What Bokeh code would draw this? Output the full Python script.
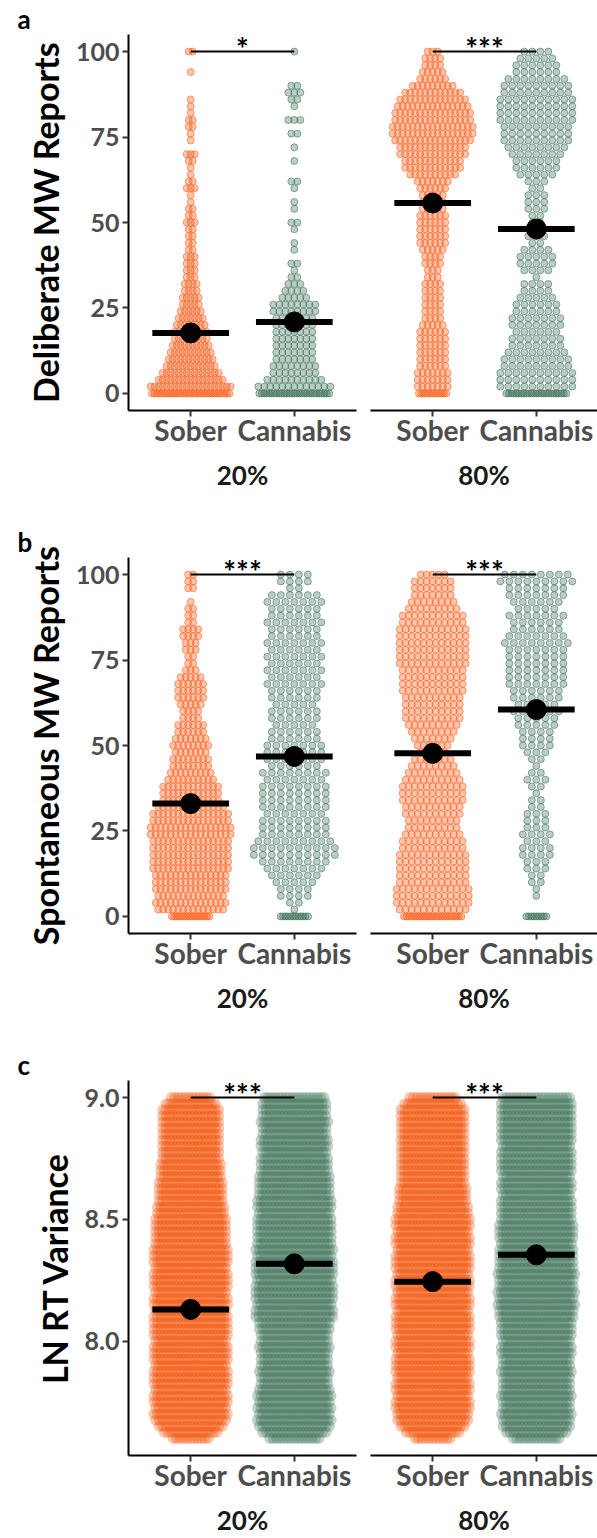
from bokeh.plotting import figure
from bokeh.layouts import column, row
from bokeh.models import Range1d, FixedTicker, Title, NumeralTickFormatter
from bokeh.core.properties import value
from bokeh.embed import file_html
from bokeh.resources import INLINE

FONT = "Lato"
ORANGE = "#FF5A14"
GREEN = "#3D7055"
ORANGE_SOLID = "#F35005"
GREEN_SOLID = "#3F7257"

CONDITIONS = ["Sober", "Cannabis"]
LOADS = ["20%", "80%"]

# Report levels (0-100, step 2) for the two MW rating panels
MW_LEVELS = list(range(0, 101, 2))
# LN RT variance levels (7.600 - 9.000, step 0.025)
RT_LEVELS = [round(7.6 + 0.025 * i, 3) for i in range(57)]

# ---- a: deliberate MW reports, trials per level (levels 0, 2, ..., 100)
deliberate_sober_20 = [32, 21, 17, 15, 13, 12, 11, 10, 9, 9,
                       8, 7, 6, 5, 5, 4, 4, 3, 3, 3,
                       3, 2, 2, 2, 2, 3, 2, 2, 1, 1,
                       3, 2, 1, 1, 2, 3, 0, 1, 1, 2,
                       2, 1, 1, 1, 0, 0, 0, 1, 0, 0, 2]
deliberate_cannabis_20 = [29, 13, 10, 8, 8, 7, 7, 7, 7, 7,
                          7, 7, 8, 8, 5, 4, 3, 2, 1, 2,
                          0, 1, 1, 0, 1, 2, 0, 1, 1, 0,
                          1, 2, 0, 0, 1, 0, 1, 0, 2, 0,
                          3, 0, 1, 2, 3, 2, 0, 0, 0, 0, 1]
deliberate_sober_80 = [12, 7, 7, 7, 6, 6, 6, 6, 6, 6,
                       5, 4, 4, 4, 4, 4, 4, 3, 3, 4,
                       4, 5, 6, 6, 6, 6, 6, 5, 5, 5,
                       6, 7, 10, 12, 12, 14, 14, 16, 17, 17,
                       16, 16, 15, 14, 12, 9, 6, 5, 4, 4, 3]
deliberate_cannabis_80 = [25, 10, 10, 10, 9, 9, 8, 7, 7, 6,
                          7, 7, 6, 6, 5, 4, 4, 1, 4, 5,
                          5, 4, 2, 3, 2, 2, 2, 3, 3, 3,
                          2, 3, 5, 6, 6, 7, 8, 9, 9, 9,
                          10, 10, 10, 10, 9, 9, 8, 6, 6, 5, 4]
deliberate_mean_20 = [17.7, 20.9]
deliberate_mean_80 = [55.7, 48.1]
deliberate_sig = ["*", "***"]

# ---- b: spontaneous MW reports
spontaneous_sober_20 = [16, 14, 15, 14, 15, 15, 15, 16, 16, 16,
                        16, 16, 17, 17, 16, 16, 14, 12, 12, 12,
                        10, 9, 8, 8, 7, 8, 7, 6, 6, 4,
                        4, 5, 6, 6, 6, 5, 3, 2, 2, 3,
                        3, 4, 4, 2, 2, 2, 1, 0, 2, 2, 2]
spontaneous_cannabis_20 = [12, 1, 2, 4, 4, 5, 6, 7, 8, 10,
                           10, 9, 8, 8, 8, 7, 8, 8, 8, 8,
                           7, 8, 6, 7, 7, 7, 6, 6, 5, 6,
                           6, 5, 6, 6, 7, 6, 7, 6, 7, 6,
                           7, 6, 6, 7, 6, 6, 7, 6, 2, 4, 4]
spontaneous_sober_80 = [24, 12, 13, 13, 13, 12, 12, 12, 12, 12,
                        11, 11, 10, 9, 9, 10, 10, 11, 11, 11,
                        10, 9, 8, 7, 5, 6, 7, 8, 9, 10,
                        10, 10, 10, 11, 11, 11, 11, 12, 12, 12,
                        12, 12, 12, 11, 11, 9, 8, 7, 7, 7, 5]
spontaneous_cannabis_80 = [9, 0, 0, 1, 1, 2, 2, 3, 3, 4,
                           4, 3, 4, 3, 3, 3, 2, 2, 1, 2,
                           3, 2, 1, 2, 3, 4, 4, 4, 5, 5,
                           6, 5, 6, 6, 7, 7, 7, 7, 7, 7,
                           8, 7, 6, 6, 7, 5, 6, 7, 7, 9, 8]
spontaneous_mean_20 = [33.0, 46.8]
spontaneous_mean_80 = [47.7, 60.5]
spontaneous_sig = ["***", "***"]

# ---- c: LN RT variance, trials per level (7.600 ... 9.000)
rt_sober_20 = [11, 16, 19, 21,
               22, 21, 22, 22, 21, 22, 22, 22, 21, 22, 22, 22, 21, 22, 22,
               22, 22, 21, 22, 22, 21, 22, 22, 22, 21, 22, 22, 22, 21,
               21, 21, 21, 21, 20, 20, 19, 19, 19, 19, 18, 18,
               18, 17, 17, 17, 17, 17, 17, 17, 17, 17, 15, 12]
rt_cannabis_20 = [15, 19, 21,
                  22, 21, 22, 21, 22, 21,
                  20, 20, 21, 20, 20, 20, 21, 20, 20, 21, 21,
                  23, 23, 22, 23, 23, 23, 22, 23, 23, 23, 22, 23, 22,
                  22, 22, 22, 22, 21, 22, 22, 21, 21, 21, 21, 20,
                  20, 20, 19, 20, 20, 19, 19, 20, 19, 19, 19, 18]
rt_sober_80 = [11, 16, 19, 21,
               21, 22, 22, 21, 22, 22, 21, 22, 22, 22, 21, 22, 22, 21, 22,
               22, 22, 21, 22, 22, 21, 22, 22, 21, 22, 22, 22, 21, 22,
               22, 21, 22, 22, 21, 21, 20, 20, 20, 19, 19, 19,
               19, 19, 19, 19, 19, 19, 19, 19, 19, 19, 17, 14]
rt_cannabis_80 = [14, 18, 20,
                  20, 21, 20, 20, 21, 20, 20, 20, 21, 20, 20, 21, 21, 20, 21, 21, 21,
                  22, 22, 23, 22, 23, 22, 22, 23, 22, 22, 22, 22, 21, 22, 22, 22, 21,
                  21, 21, 21, 20, 21, 21, 20, 21, 21, 21, 21, 20, 21, 21, 21, 21,
                  21, 21, 21, 20]
rt_mean_20 = [8.13, 8.317]
rt_mean_80 = [8.244, 8.354]
rt_sig = ["***", "***"]

# ---- geometry of one facet
FRAME_W = 228
X_LO, X_HI = 0.4, 2.6
PX = FRAME_W / (X_HI - X_LO)          # screen px per x unit
CENTERS = [1, 2]
TOP = 30


def swarm(center, levels, counts, gap_px, pile_px=None):
    """Lay points of each level side by side, centred on the category."""
    xs, ys = [], []
    for lv, n in zip(levels, counts):
        step = pile_px if (pile_px is not None and lv == 0) else gap_px
        step /= PX
        for i in range(n):
            xs.append(center + (i - (n - 1) / 2) * step)
            ys.append(lv)
    return xs, ys


def facet(left, load, y_lo, y_hi, ticks, ylabel, height, bottom, letter, fmt=None):
    p = figure(width=363 if left else 234, height=height,
               x_range=Range1d(X_LO, X_HI if left else X_HI - 1 / PX),
               y_range=Range1d(y_lo, y_hi),
               output_backend="svg", toolbar_location=None,
               y_axis_location="left" if left else None,
               min_border_left=128 if left else 7,
               min_border_right=7 if left else 0,
               min_border_top=TOP, min_border_bottom=bottom)
    p.outline_line_color = None
    p.grid.visible = False
    p.background_fill_color = "white"
    p.border_fill_color = "white"
    xa = p.xaxis[0]
    xa.ticker = FixedTicker(ticks=CENTERS)
    xa.major_label_overrides = {1: CONDITIONS[0], 2: CONDITIONS[1]}
    xa.axis_label = load
    xa.major_label_text_font_size = "28px"
    xa.major_label_text_line_height = 1.0
    xa.major_label_standoff = -4
    xa.axis_label_text_font_size = "26px"
    xa.axis_label_text_line_height = 1.0
    xa.axis_label_text_color = "#1A1A1A"
    xa.axis_label_standoff = 9
    if left:
        ya = p.yaxis[0]
        ya.ticker = FixedTicker(ticks=ticks)
        if fmt:
            ya.formatter = NumeralTickFormatter(format=fmt)
        ya.axis_label = ylabel
        ya.major_label_text_font_size = "25px"
        ya.major_label_standoff = 3
        ya.axis_label_text_font_size = "34px"
        ya.axis_label_text_color = "black"
        ya.axis_label_standoff = 7
        p.add_layout(Title(text=letter, align="left", offset=-111, standoff=0,
                           text_font=FONT, text_font_size="26px",
                           text_line_height=0.9,
                           text_font_style="bold", text_color="black"), "above")
    for ax in p.axis:
        ax.axis_line_width = 2
        ax.axis_line_color = "black"
        ax.major_tick_line_width = 2
        ax.major_tick_line_color = "#333333"
        ax.major_tick_out = 6
        ax.major_tick_in = 0
        ax.minor_tick_out = 0
        ax.minor_tick_in = 0
        ax.major_label_text_font = FONT
        ax.major_label_text_font_style = "bold"
        ax.major_label_text_color = "#4D4D4D"
        ax.axis_label_text_font = FONT
        ax.axis_label_text_font_style = "bold"
    return p


def add_summary(p, means, sig, top):
    for c, m in zip(CENTERS, means):
        p.segment(x0=[c - 0.37], x1=[c + 0.37], y0=[m], y1=[m],
                  line_color="black", line_width=6)
        p.scatter(x=[c], y=[m], size=20, marker="circle",
                  fill_color="black", line_color="black")
    p.segment(x0=[1], x1=[2], y0=[top], y1=[top], line_color="black", line_width=2)
    p.text(x=[1.5], y=[top], text=[sig], text_align="center",
           text_baseline="alphabetic", y_offset=-4,
           text_font=value(FONT), text_font_size="30px",
           text_font_style="bold", text_color="black")


def mw_panel(letter, ylabel, data, means, sigs, gaps, height, bottom):
    figs = []
    for k, load in enumerate(LOADS):
        p = facet(k == 0, load, -5, 105, [0, 25, 50, 75, 100], ylabel,
                  height, bottom, letter)
        for j, (col, counts) in enumerate(zip([ORANGE, GREEN], data[k])):
            xs, ys = swarm(CENTERS[j], MW_LEVELS, counts, gaps[k][j], pile_px=2.5)
            p.scatter(x=xs, y=ys, size=7, marker="circle",
                      fill_color=col, fill_alpha=0.35,
                      line_color=col, line_alpha=0.55, line_width=1)
        add_summary(p, means[k], sigs[k], 100)
        figs.append(p)
    return row(*figs)


def rt_panel(letter, ylabel, data, means, sigs, height, bottom):
    figs = []
    for k, load in enumerate(LOADS):
        p = facet(k == 0, load, 7.53, 9.07, [8.0, 8.5, 9.0], ylabel,
                  height, bottom, letter, fmt="0.0")
        for j, (col, counts) in enumerate(zip([ORANGE_SOLID, GREEN_SOLID], data[k])):
            xs, ys = swarm(CENTERS[j], RT_LEVELS, counts, 3.5)
            p.scatter(x=xs, y=ys, size=11, marker="circle",
                      fill_color=col, fill_alpha=0.32, line_color=None)
        add_summary(p, means[k], sigs[k], 9.0)
        figs.append(p)
    return row(*figs)


panel_a = mw_panel("a", "Deliberate MW Reports",
                   [[deliberate_sober_20, deliberate_cannabis_20],
                    [deliberate_sober_80, deliberate_cannabis_80]],
                   [deliberate_mean_20, deliberate_mean_80], deliberate_sig,
                   [[4, 6], [5, 8]], 523, 113)
panel_b = mw_panel("b", "Spontaneous MW Reports",
                   [[spontaneous_sober_20, spontaneous_cannabis_20],
                    [spontaneous_sober_80, spontaneous_cannabis_80]],
                   [spontaneous_mean_20, spontaneous_mean_80], spontaneous_sig,
                   [[5, 9], [6, 9]], 523, 113)
panel_c = rt_panel("c", "LN RT Variance",
                   [[rt_sober_20, rt_cannabis_20], [rt_sober_80, rt_cannabis_80]],
                   [rt_mean_20, rt_mean_80], rt_sig, 492, 82)

layout = column(panel_a, panel_b, panel_c)

with open("out.html", "w") as f:
    f.write(file_html(layout, INLINE))
